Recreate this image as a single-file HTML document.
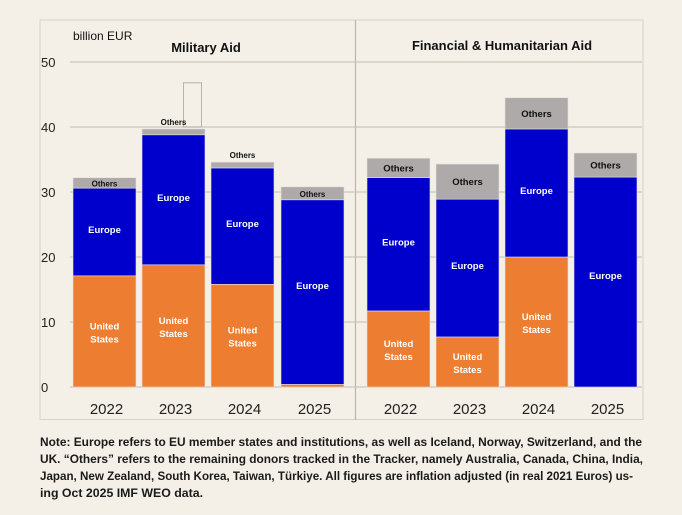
<!DOCTYPE html>
<html><head><meta charset="utf-8"><style>
body{margin:0;background:#f4f0e7;}
svg{display:block;font-family:"Liberation Sans",sans-serif;}
</style></head><body>
<svg id="chart" width="682" height="515">
<rect x="0" y="0" width="682" height="515" fill="#f4f0e7"/>
<rect x="40" y="20" width="603" height="399.5" fill="none" stroke="#d6d2ca" stroke-width="1"/>
<line x1="355.5" y1="20" x2="355.5" y2="420" stroke="#b8b4ae" stroke-width="1.2"/>
<g id="grid"></g>
<g id="bars"></g>
<g id="labels"></g>
<text x="73" y="40" font-size="12" fill="#111">billion EUR</text>
<text x="206" y="52" font-size="13" font-weight="bold" text-anchor="middle" fill="#111">Military Aid</text>
<text x="502" y="50" font-size="13" font-weight="bold" text-anchor="middle" fill="#111">Financial &amp; Humanitarian Aid</text>
<g font-size="12.3" font-weight="bold" fill="#1a1a1a">
<text x="40" y="446" textLength="602" lengthAdjust="spacingAndGlyphs">Note: Europe refers to EU member states and institutions, as well as Iceland, Norway, Switzerland, and the</text>
<text x="40" y="463" textLength="603" lengthAdjust="spacingAndGlyphs">UK. “Others” refers to the remaining donors tracked in the Tracker, namely Australia, Canada, China, India,</text>
<text x="40" y="480" textLength="593" lengthAdjust="spacingAndGlyphs">Japan, New Zealand, South Korea, Taiwan, Türkiye. All figures are inflation adjusted (in real 2021 Euros) us-</text>
<text x="40" y="497" textLength="163" lengthAdjust="spacingAndGlyphs">ing Oct 2025 IMF WEO data.</text>
</g>
</svg>
<script>
const years = ["2022","2023","2024","2025"];
const milUS = [17.1, 18.8, 15.8, 0.4];
const milEurope = [13.5, 20.0, 17.9, 28.4];
const milOthers = [1.6, 0.9, 0.9, 2.0];
const finUS = [11.7, 7.7, 20.0, 0];
const finEurope = [20.5, 21.2, 19.7, 32.3];
const finOthers = [3.0, 5.4, 4.8, 3.7];
const ghost2023 = 46.8;
const yTicks = [0,10,20,30,40,50];

const NS="http://www.w3.org/2000/svg";
const y0=387, pxPerUnit=6.5;
const yScale=v=>y0-v*pxPerUnit;
const milX=[73,142,211,281], finX=[367,436,505,574], bw=63;
function mk(tag,attrs,parent){const e=document.createElementNS(NS,tag);for(const k in attrs)e.setAttribute(k,attrs[k]);parent.appendChild(e);return e;}
const grid=document.getElementById('grid'),bars=document.getElementById('bars'),labels=document.getElementById('labels');
yTicks.forEach(t=>{
  const l=mk('line',{x1:70,x2:642,y1:yScale(t),y2:yScale(t),stroke:'#c9c5bd','stroke-width':1.2},grid);
  
  
  const tx=mk('text',{x:41,y:yScale(t)+5,'font-size':13,fill:'#222'},grid);
  tx.textContent=t;
  
  
});
// ghost bar 2023 military
const g=mk('rect',{x:183.5,y:yScale(ghost2023),width:18,height:yScale(40)-yScale(ghost2023),fill:'none',stroke:'#b5b1ab','stroke-width':1},bars);



function txt(x,y,s,fill,size,name){
  const t=mk('text',{x:x,y:y,'text-anchor':'middle','font-size':size,'font-weight':'bold',fill:fill},labels);
  t.textContent=s;
  
  
}
function panel(xs,us,eu,ot,prefix,othersAbove){
  years.forEach((yr,i)=>{
    const x=xs[i];
    const a=us[i],b=a+eu[i],c=b+ot[i];
    const segs=[[0,a,'#ed7d31','us'],[a,b,'#0000cc','europe'],[b,c,'#aeaaaa','others']];
    segs.forEach(s=>{
      if(s[1]-s[0]<=0)return;
      const r=mk('rect',{x:x,y:yScale(s[1]),width:bw,height:yScale(s[0])-yScale(s[1]),fill:s[2],stroke:'#e6e2da','stroke-width':0.6},bars);
      
      
    });
    const cx=x+bw/2;
    if(a>3){
      const m=(yScale(0)+yScale(a))/2;
      txt(cx,m-2,'United','#fff',9.5,prefix+'-label-us-'+yr);
      txt(cx,m+11,'States','#fff',9.5,prefix+'-label-us2-'+yr);
    }
    const me=(yScale(a)+yScale(b))/2;
    txt(cx,me+(b-a>25?-3:1),'Europe','#fff',9.5,prefix+'-label-europe-'+yr);
    const oy=othersAbove[i]?yScale(c)-4:(yScale(b)+yScale(c))/2+3.5;
    txt(cx,oy,'Others','#111',othersAbove[i]===2?8.5:(prefix==='mil'?8:9.5),prefix+'-label-others-'+yr);
    const yl=mk('text',{x:cx+2,y:414,'text-anchor':'middle','font-size':15,fill:'#222'},labels);
    yl.textContent=yr;
    
    
  });
}
panel(milX,milUS,milEurope,milOthers,'mil',[false,true,true,false]);
panel(finX,finUS,finEurope,finOthers,'fin',[false,false,false,false]);
</script>
</body></html>
